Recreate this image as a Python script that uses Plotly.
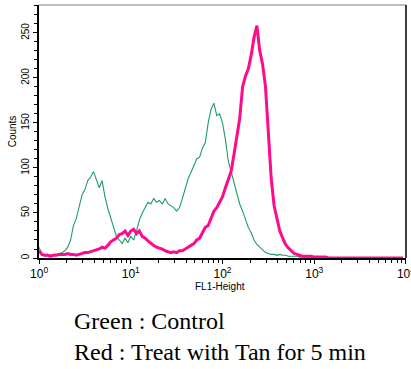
import plotly.graph_objects as go

# Channels: 32 bins per decade over 4 decades (10^0 .. 10^4)
channels = list(range(128))

control_counts = [
    12, 4, 2, 4, 3, 4, 4, 5, 6, 8,
    12, 20, 36, 44, 56, 70, 76, 86, 90, 96,
    87, 78, 86, 68, 55, 44, 33, 24, 20, 16,
    22, 17, 24, 20, 30, 42, 50, 56, 62, 60,
    66, 62, 64, 60, 66, 60, 58, 56, 52, 56,
    66, 78, 88, 95, 102, 110, 112, 122, 128, 150,
    165, 172, 158, 160, 150, 132, 108, 96, 86, 72,
    60, 52, 42, 34, 28, 20, 15, 12, 9, 6,
    5, 4, 4, 3, 4, 3, 3, 2, 2, 2,
    2, 1, 1, 1, 1, 1, 1, 0, 0, 0,
] + [0] * 28

treated_counts = [
    8, 4, 3, 3, 2, 3, 3, 4, 4, 4,
    5, 4, 4, 3, 4, 5, 6, 6, 7, 8,
    9, 10, 12, 11, 14, 18, 20, 22, 26, 27,
    30, 25, 30, 32, 27, 30, 24, 22, 19, 16,
    14, 12, 11, 10, 8, 7, 6, 7, 6, 8,
    8, 10, 12, 14, 16, 20, 22, 28, 34, 36,
    44, 52, 56, 62, 68, 78, 88, 96, 115, 135,
    155, 190, 202, 210, 225, 245, 258, 230, 215, 190,
    140, 88, 58, 42, 30, 22, 15, 11, 8, 5,
    4, 3, 2, 2, 2, 2, 1, 1, 1, 1,
    1,
] + [0] * 27

x_tick_vals = [1, 10, 100, 1000, 10000]
x_tick_text = ["10<sup>0</sup>", "10<sup>1</sup>", "10<sup>2</sup>", "10<sup>3</sup>", "10<sup>4</sup>"]
y_tick_vals = [0, 50, 100, 150, 200, 250]

fl1 = [10 ** (c / 32) for c in channels]

fig = go.Figure()
fig.add_trace(go.Scatter(x=fl1, y=control_counts, mode="lines",
                         line=dict(color="#1f9a6c", width=1.1), name="Control"))
fig.add_trace(go.Scatter(x=fl1, y=treated_counts, mode="lines",
                         line=dict(color="#ff0a8c", width=3), name="Tan 5 min"))

minor_x = [m * 10 ** e for e in range(4) for m in range(2, 10)]

fig.update_layout(
    width=411, height=369,
    margin=dict(l=39, r=5, t=5, b=111),
    paper_bgcolor="white", plot_bgcolor="white",
    showlegend=False,
    font=dict(family="Liberation Sans, Arial", color="black"),
    xaxis=dict(type="log", range=[-0.0005, 4.0005], tickvals=x_tick_vals, ticktext=x_tick_text,
               ticks="outside", ticklen=4, tickwidth=1, tickcolor="black",
               showline=True, linecolor="black", linewidth=1.5,
               showgrid=False, zeroline=False, automargin=False,
               ticklabeloverflow="allow",
               tickfont=dict(size=12),
               minor=dict(tickvals=minor_x, ticks="outside", ticklen=3, tickcolor="black", showgrid=False)),
    yaxis=dict(range=[0, 281], tickvals=y_tick_vals, tickangle=-90,
               ticks="outside", ticklen=4, tickwidth=1, tickcolor="black",
               showline=True, linecolor="black", linewidth=1.5,
               showgrid=False, zeroline=False, automargin=False,
               tickfont=dict(size=10),
               minor=dict(dtick=10, ticks="outside", ticklen=3, tickcolor="black", showgrid=False),
               title=dict(text="Counts", font=dict(size=10), standoff=2)),
)

# frame: gray top, black right
fig.add_shape(type="line", xref="paper", yref="paper", x0=0, x1=1, y0=1, y1=1,
              line=dict(color="#aaaaaa", width=1.5))
fig.add_shape(type="line", xref="paper", yref="paper", x0=1, x1=1, y0=0, y1=1,
              line=dict(color="black", width=1.5))

# x-axis title
fig.add_annotation(text="FL1-Height", xref="paper", yref="paper",
                   x=(220 - 39) / 367, y=(258 - 286) / 253, xanchor="center", yanchor="middle",
                   showarrow=False, font=dict(family="Liberation Sans, Arial", size=10, color="black"))

fig.add_annotation(text="Green : Control", xref="paper", yref="paper",
                   x=(72 - 39) / 367, y=(258 - 321) / 253, xanchor="left", yanchor="middle",
                   showarrow=False, font=dict(family="Liberation Serif", size=24, color="black"))
fig.add_annotation(text="Red : Treat with Tan for 5 min", xref="paper", yref="paper",
                   x=(72 - 39) / 367, y=(258 - 352) / 253, xanchor="left", yanchor="middle",
                   showarrow=False, font=dict(family="Liberation Serif", size=24, color="black"))

fig.write_html("out.html", config={"displayModeBar": False},
               post_script="document.body.style.margin='0';document.body.style.overflow='hidden';")
